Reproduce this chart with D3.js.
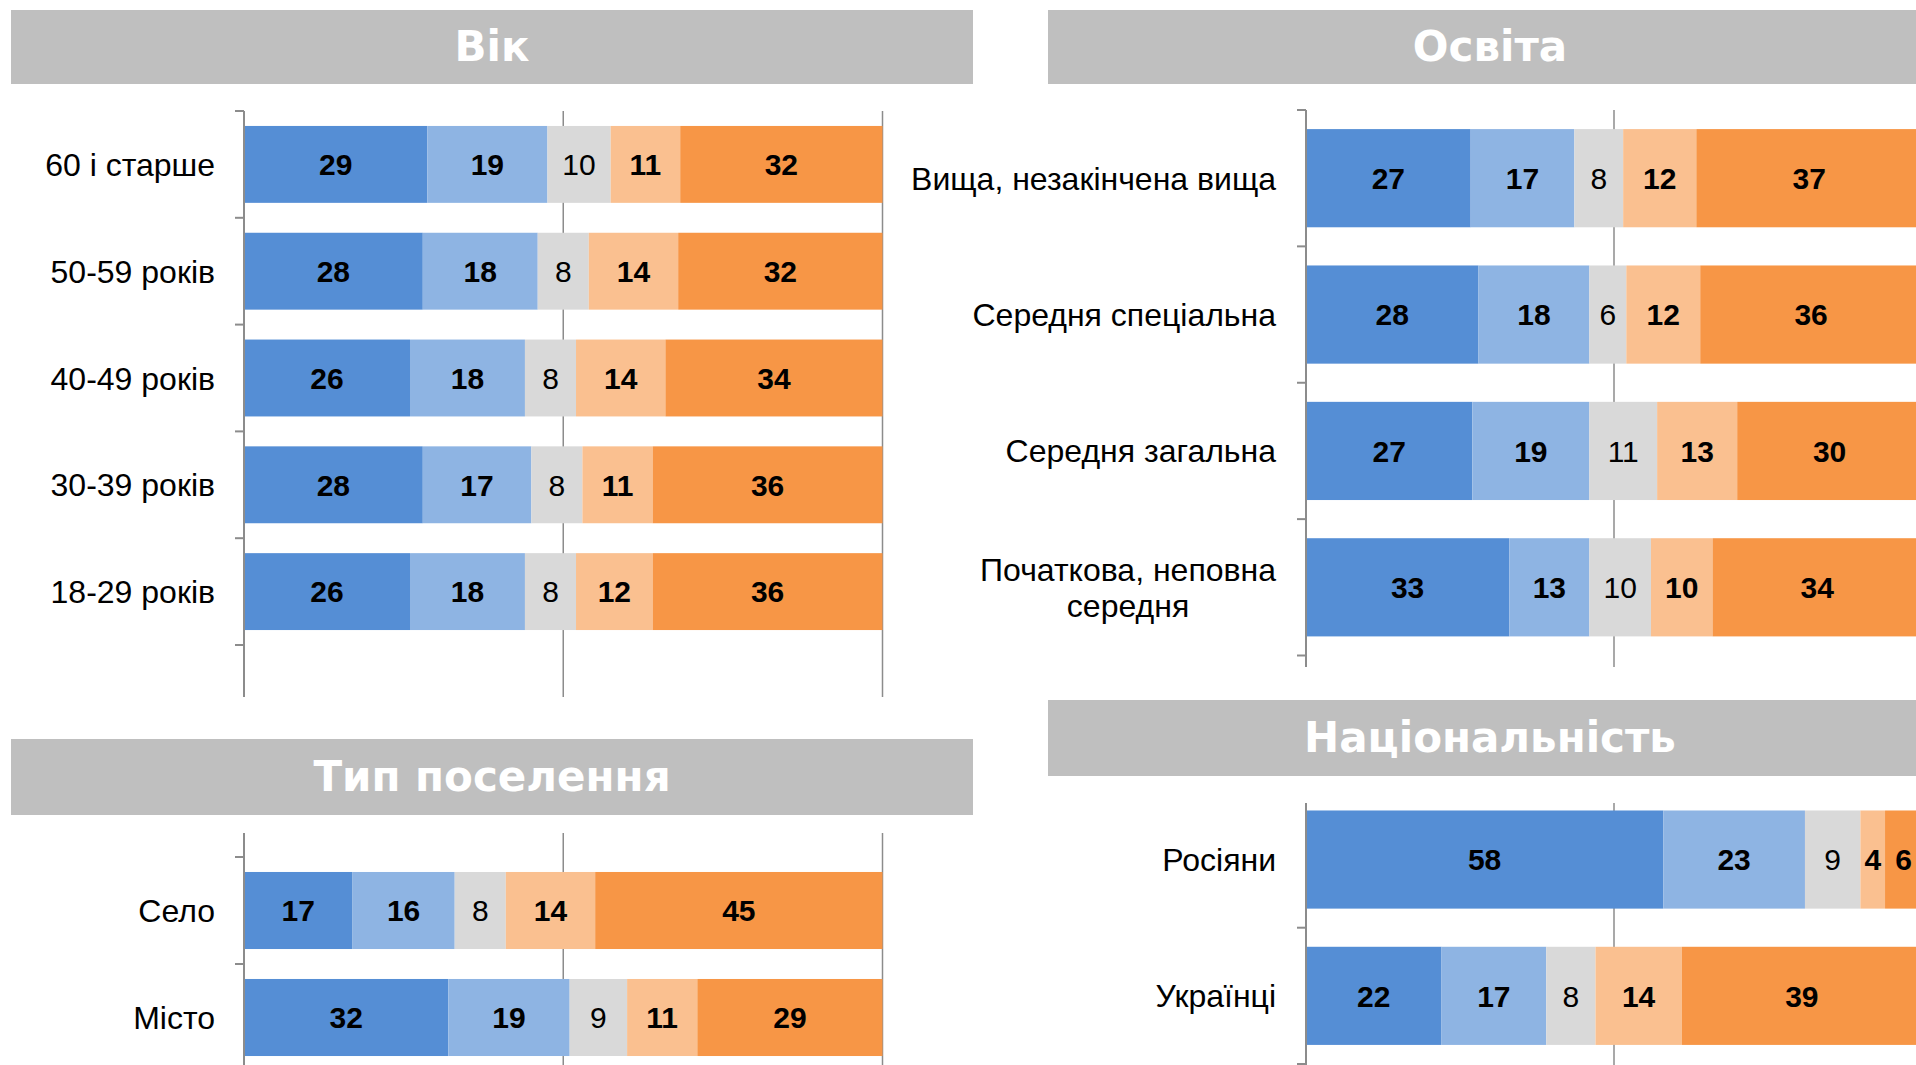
<!DOCTYPE html>
<html lang="uk">
<head>
  <meta charset="utf-8">
  <title>Соціально-демографічні групи</title>
  <script src="https://cdn.jsdelivr.net/npm/d3@7"></script>
  <style>
    body { margin: 0; background: #fff; }
    .kat text { font: 32px "Liberation Sans", Arial, sans-serif; fill: #000; }
    .znach { font-family: "Liberation Sans", Arial, sans-serif; font-size: 30px; fill: #000; }
    .shapka text { font: bold 42px "DejaVu Sans", Verdana, sans-serif; fill: #fff; }
  </style>
</head>
<body>
<div id="chart"></div>
<script>
"use strict"

// п'ять варіантів відповіді, від синього до помаранчевого
var kluchi = ["v1", "v2", "v3", "v4", "v5"];
var kolory = ["#558ED5", "#8EB4E3", "#D9D9D9", "#FAC090", "#F79646"];

var vikKategorii = ["60 і старше", "50-59 років", "40-49 років", "30-39 років", "18-29 років"];
var vikDani = [
  [29, 19, 10, 11, 32],
  [28, 18, 8, 14, 32],
  [26, 18, 8, 14, 34],
  [28, 17, 8, 11, 36],
  [26, 18, 8, 12, 36]
];

var osvitaKategorii = ["Вища, незакінчена вища", "Середня спеціальна", "Середня загальна", "Початкова, неповна середня"];
var osvitaDani = [
  [27, 17, 8, 12, 37],
  [28, 18, 6, 12, 36],
  [27, 19, 11, 13, 30],
  [33, 13, 10, 10, 34]
];

var poselennyaKategorii = ["Село", "Місто"];
var poselennyaDani = [
  [17, 16, 8, 14, 45],
  [32, 19, 9, 11, 29]
];

var natsKategorii = ["Росіяни", "Українці"];
var natsDani = [
  [58, 23, 9, 4, 6],
  [22, 17, 8, 14, 39]
];

var svg = d3.select('#chart')
  .append('svg')
    .attr('width', 1916)
    .attr('height', 1065);

function panel(p) {
  // сіра плашка із заголовком
  var sh = svg.append('g').attr('class', 'shapka');
  sh.append('rect')
    .attr('x', p.shapka[0]).attr('y', p.shapka[1])
    .attr('width', p.shapka[2] - p.shapka[0])
    .attr('height', p.shapka[3] - p.shapka[1])
    .attr('fill', '#BFBFBF');
  sh.append('text')
    .attr('x', (p.shapka[0] + p.shapka[2]) / 2)
    .attr('y', (p.shapka[1] + p.shapka[3]) / 2 + 14)
    .attr('text-anchor', 'middle')
    .text(p.nazva);

  var ryadky = p.kategorii.map(function(k, i) {
    var r = { kat: k };
    kluchi.forEach(function(kl, j) { r[kl] = p.dani[i][j]; });
    return r;
  });

  var stek = d3.stack().keys(kluchi).offset(d3.stackOffsetExpand)(ryadky);

  var x = d3.scaleLinear().domain([0, 1]).range(p.xRange);
  var y = d3.scaleBand()
    .domain(p.kategorii)
    .range(p.yRange)
    .paddingInner(0.28)
    .paddingOuter(0.14);

  var g = svg.append('g');

  // вертикальні лінії сітки
  g.selectAll('line.sitka')
    .data([0.5, 1])
    .enter().append('line')
      .attr('x1', d => x(d)).attr('x2', d => x(d))
      .attr('y1', p.vis[0]).attr('y2', p.vis[1])
      .attr('stroke', '#8C8C8C')
      .attr('stroke-width', 1.5);

  var shary = g.selectAll('g.shar')
    .data(stek)
    .enter().append('g')
      .attr('fill', (d, i) => kolory[i]);

  shary.selectAll('rect')
    .data(d => d)
    .enter().append('rect')
      .attr('x', d => x(d[0]))
      .attr('width', d => x(d[1]) - x(d[0]))
      .attr('y', d => y(d.data.kat))
      .attr('height', y.bandwidth());

  // підписи значень
  stek.forEach(function(s, i) {
    g.selectAll(null)
      .data(s)
      .enter().append('text')
        .attr('class', 'znach')
        .attr('x', d => (x(d[0]) + x(d[1])) / 2)
        .attr('y', d => y(d.data.kat) + y.bandwidth() / 2)
        .attr('dy', '0.36em')
        .attr('text-anchor', 'middle')
        .attr('font-weight', i === 2 ? 'normal' : 'bold')
        .text(d => d.data[s.key]);
  });

  // вісь категорій
  g.append('line')
    .attr('x1', x(0)).attr('x2', x(0))
    .attr('y1', p.vis[0]).attr('y2', p.vis[1])
    .attr('stroke', '#8C8C8C')
    .attr('stroke-width', 2);

  var poznachky = d3.range(p.kategorii.length + 1)
    .map(i => y.range()[0] + i * y.step())
    .filter(v => v >= p.vis[0] - 1 && v <= p.vis[1]);

  g.selectAll('line.tik')
    .data(poznachky)
    .enter().append('line')
      .attr('x1', x(0) - 9).attr('x2', x(0))
      .attr('y1', d => d).attr('y2', d => d)
      .attr('stroke', '#8C8C8C')
      .attr('stroke-width', 2);

  // назви категорій, з переносом довгих
  var kat = g.append('g').attr('class', 'kat');
  p.kategorii.forEach(function(k) {
    var t = kat.append('text').attr('text-anchor', 'end').attr('x', p.labelX).text(k);
    var cy = y(k) + y.bandwidth() / 2;
    if (t.node().getComputedTextLength() <= 390) {
      t.attr('y', cy).attr('dy', '0.36em');
      return;
    }
    t.remove();
    var slova = k.split(' '), ryad = [], rz = [];
    slova.forEach(function(s) {
      var proba = ryad.concat([s]).join(' ');
      var tt = kat.append('text').text(proba);
      var w = tt.node().getComputedTextLength();
      tt.remove();
      if (w > 390 && ryad.length) { rz.push(ryad.join(' ')); ryad = [s]; }
      else ryad.push(s);
    });
    rz.push(ryad.join(' '));
    var shyr = d3.max(rz, function(r) {
      var tt = kat.append('text').text(r);
      var w = tt.node().getComputedTextLength();
      tt.remove();
      return w;
    });
    var lh = 35.5;
    rz.forEach(function(r, i) {
      kat.append('text')
        .attr('text-anchor', 'middle')
        .attr('x', p.labelX - shyr / 2)
        .attr('y', cy + (i - (rz.length - 1) / 2) * lh)
        .attr('dy', '0.36em')
        .text(r);
    });
  });
}

panel({
  nazva: "Вік", kategorii: vikKategorii, dani: vikDani,
  shapka: [11, 10, 973, 84],
  xRange: [244, 882.5], yRange: [111, 645], vis: [111, 697], labelX: 215
});

panel({
  nazva: "Освіта", kategorii: osvitaKategorii, dani: osvitaDani,
  shapka: [1048, 10, 1932, 84],
  xRange: [1306, 1922], yRange: [110, 655.5], vis: [110, 667], labelX: 1276
});

panel({
  nazva: "Тип поселення", kategorii: poselennyaKategorii, dani: poselennyaDani,
  shapka: [11, 739, 973, 815],
  xRange: [244, 882.5], yRange: [857, 1071], vis: [833, 1080], labelX: 215
});

panel({
  nazva: "Національність", kategorii: natsKategorii, dani: natsDani,
  shapka: [1048, 700, 1932, 776],
  xRange: [1306, 1922], yRange: [791.4, 1064], vis: [803, 1080], labelX: 1276
});
</script>
</body>
</html>
